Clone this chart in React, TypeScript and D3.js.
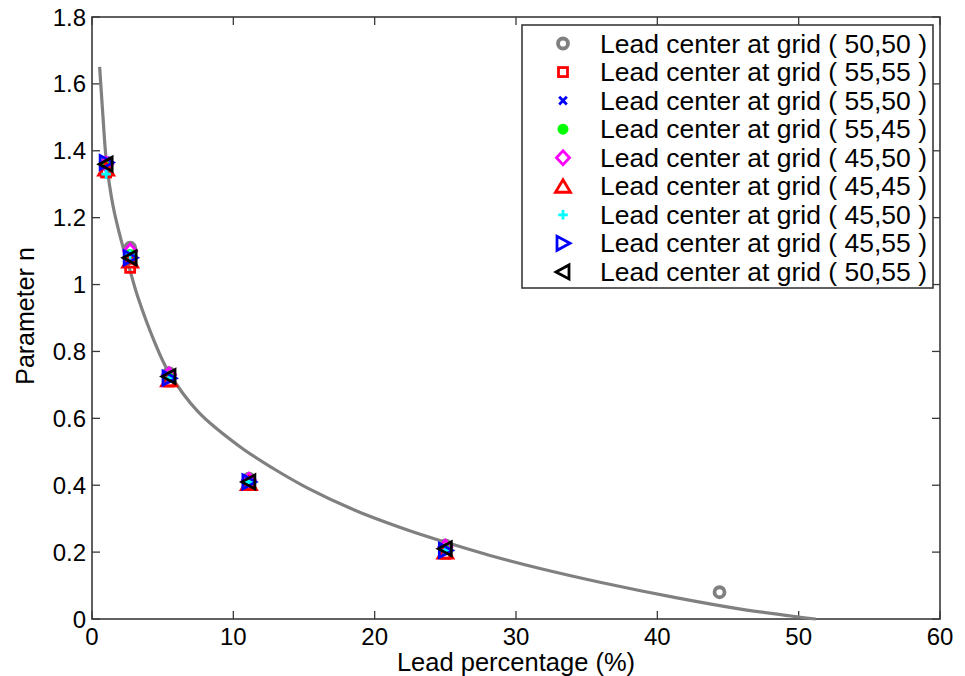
import React from "react";
import * as d3 from "d3";

// ---- data ----
const leadPct = [1.0, 2.7, 5.45, 11.1, 25.0];
const grid50_50 = [1.36, 1.11, 0.735, 0.42, 0.22];
const grid55_55 = [1.335, 1.05, 0.71, 0.405, 0.195];
const grid55_50 = [1.37, 1.08, 0.72, 0.41, 0.205];
const grid55_45 = [1.36, 1.09, 0.725, 0.41, 0.21];
const grid45_50a = [1.36, 1.1, 0.73, 0.415, 0.215];
const grid45_45 = [1.345, 1.07, 0.715, 0.405, 0.2];
const grid45_50b = [1.33, 1.09, 0.72, 0.41, 0.205];
const grid45_55 = [1.365, 1.08, 0.72, 0.41, 0.205];
const grid50_55 = [1.36, 1.08, 0.725, 0.41, 0.21];
const extraX = [44.4];
const extraN = [0.08];

const fitX = [0.54, 0.78, 1.01, 1.49, 2.08, 2.67, 3.25, 4.43, 5.38, 7.5, 10.47, 12.83, 15.19, 18.73, 22.27, 24.98, 28.16, 31.7, 35.94, 41.3, 46.0, 50.0, 51.2];
const fitN = [1.651, 1.5, 1.372, 1.235, 1.13, 1.045, 0.962, 0.828, 0.742, 0.62, 0.515, 0.45, 0.393, 0.323, 0.267, 0.23, 0.19, 0.151, 0.11, 0.064, 0.029, 0.006, 0.0];

const legendLabels = [
  "Lead center at grid ( 50,50 )",
  "Lead center at grid ( 55,55 )",
  "Lead center at grid ( 55,50 )",
  "Lead center at grid ( 55,45 )",
  "Lead center at grid ( 45,50 )",
  "Lead center at grid ( 45,45 )",
  "Lead center at grid ( 45,50 )",
  "Lead center at grid ( 45,55 )",
  "Lead center at grid ( 50,55 )",
];
const markerTypes = ["circle", "square", "x", "dot", "diamond", "triUp", "plus", "triRight", "triLeft"];
const markerColors = ["#808080", "#ff0000", "#0000ff", "#00ff00", "#ff00ff", "#ff0000", "#00ffff", "#0000ff", "#000000"];
const seriesValues = [grid50_50, grid55_55, grid55_50, grid55_45, grid45_50a, grid45_45, grid45_50b, grid45_55, grid50_55];

const xTicks = [0, 10, 20, 30, 40, 50, 60];
const yTicks = [0, 0.2, 0.4, 0.6, 0.8, 1, 1.2, 1.4, 1.6, 1.8];
const yTickLabels = ["0", "0.2", "0.4", "0.6", "0.8", "1", "1.2", "1.4", "1.6", "1.8"];

const W = 965;
const H = 676;
const L = 92, R = 940, T = 17, B = 619;
const FONT = "'Liberation Sans', Arial, Helvetica, sans-serif";

function Marker({ type, color, x, y }: { type: string; color: string; x: number; y: number }) {
  const sw = 2.8;
  const common = { fill: "none", stroke: color, strokeWidth: sw, strokeLinejoin: "miter" as const };
  switch (type) {
    case "circle":
      return <circle cx={x} cy={y} r={5} fill="none" stroke={color} strokeWidth={3.8} />;
    case "square":
      return <rect x={x - 4.5} y={y - 4.5} width={9} height={9} {...common} />;
    case "x":
      return <path d={`M${x - 3.8},${y - 3.8}L${x + 3.8},${y + 3.8}M${x - 3.8},${y + 3.8}L${x + 3.8},${y - 3.8}`} {...common} />;
    case "dot":
      return <circle cx={x} cy={y} r={5.5} fill={color} />;
    case "diamond":
      return <path d={`M${x},${y - 7}L${x + 6.5},${y}L${x},${y + 7}L${x - 6.5},${y}Z`} {...common} />;
    case "triUp":
      return <path d={`M${x},${y - 6.5}L${x + 7.5},${y + 6}L${x - 7.5},${y + 6}Z`} {...common} />;
    case "plus":
      return <path d={`M${x - 4.8},${y}L${x + 4.8},${y}M${x},${y - 4.8}L${x},${y + 4.8}`} {...common} />;
    case "triRight":
      return <path d={`M${x + 7},${y}L${x - 6},${y - 7}L${x - 6},${y + 7}Z`} {...common} />;
    case "triLeft":
      return <path d={`M${x - 7},${y}L${x + 6},${y - 7}L${x + 6},${y + 7}Z`} {...common} />;
    default:
      return null;
  }
}

export default function App() {
  const x = d3.scaleLinear().domain([0, 60]).range([L, R]);
  const y = d3.scaleLinear().domain([0, 1.8]).range([B, T]);

  const fitPts: [number, number][] = fitX.map((v, i) => [v, fitN[i]]);
  const line = d3
    .line<[number, number]>()
    .x((d) => x(d[0]))
    .y((d) => y(d[1]))
    .curve(d3.curveCatmullRom.alpha(0.5));

  const tickLen = 8;
  const axisColor = "#3a3a3a";

  const legX = 522, legY = 25, legW = 411, legH = 263;
  const rowY0 = 43.5, rowStep = 28.55;

  return (
    <svg width={W} height={H} style={{ position: "absolute", left: 0, top: 0, background: "#fff" }} fontFamily={FONT}>
      <rect x={0} y={0} width={W} height={H} fill="#fff" />
      {/* ticks */}
      <g stroke={axisColor} strokeWidth={1.3}>
        {xTicks.map((t) => (
          <g key={"xt" + t}>
            <line x1={x(t)} x2={x(t)} y1={B} y2={B - tickLen} />
            <line x1={x(t)} x2={x(t)} y1={T} y2={T + tickLen} />
          </g>
        ))}
        {yTicks.map((t) => (
          <g key={"yt" + t}>
            <line x1={L} x2={L + tickLen} y1={y(t)} y2={y(t)} />
            <line x1={R} x2={R - tickLen} y1={y(t)} y2={y(t)} />
          </g>
        ))}
      </g>
      {/* box */}
      <rect x={L} y={T} width={R - L} height={B - T} fill="none" stroke={axisColor} strokeWidth={1.6} />

      {/* tick labels */}
      <g fontSize={24} fill="#000">
        {xTicks.map((t) => (
          <text key={"xl" + t} x={x(t)} y={645} textAnchor="middle">
            {String(t)}
          </text>
        ))}
        {yTicks.map((t, i) => (
          <text key={"yl" + t} x={86} y={y(t) + 8.5} textAnchor="end">
            {yTickLabels[i]}
          </text>
        ))}
      </g>

      {/* axis labels */}
      <text x={(L + R) / 2} y={671} fontSize={25.5} textAnchor="middle" fill="#000">
        Lead percentage (%)
      </text>
      <text transform={`translate(34,316) rotate(-90)`} fontSize={25} textAnchor="middle" fill="#000">
        Parameter n
      </text>

      {/* fitted curve */}
      <path d={line(fitPts) || ""} fill="none" stroke="#808080" strokeWidth={3.2} />

      {/* data markers */}
      {seriesValues.map((vals, si) => (
        <g key={"s" + si}>
          {vals.map((v, i) => (
            <Marker key={i} type={markerTypes[si]} color={markerColors[si]} x={x(leadPct[i])} y={y(v)} />
          ))}
          {si === 0 &&
            extraX.map((ex, i) => (
              <Marker key={"e" + i} type={markerTypes[0]} color={markerColors[0]} x={x(ex)} y={y(extraN[i])} />
            ))}
        </g>
      ))}

      {/* legend */}
      <rect x={legX} y={legY} width={legW} height={legH} fill="#fff" stroke={axisColor} strokeWidth={1.6} />
      {legendLabels.map((lab, i) => {
        const ry = rowY0 + i * rowStep;
        return (
          <g key={"lg" + i}>
            <Marker type={markerTypes[i]} color={markerColors[i]} x={563} y={ry} />
            <text x={600} y={ry + 9} fontSize={26.5} fill="#000">
              {lab}
            </text>
          </g>
        );
      })}
    </svg>
  );
}
